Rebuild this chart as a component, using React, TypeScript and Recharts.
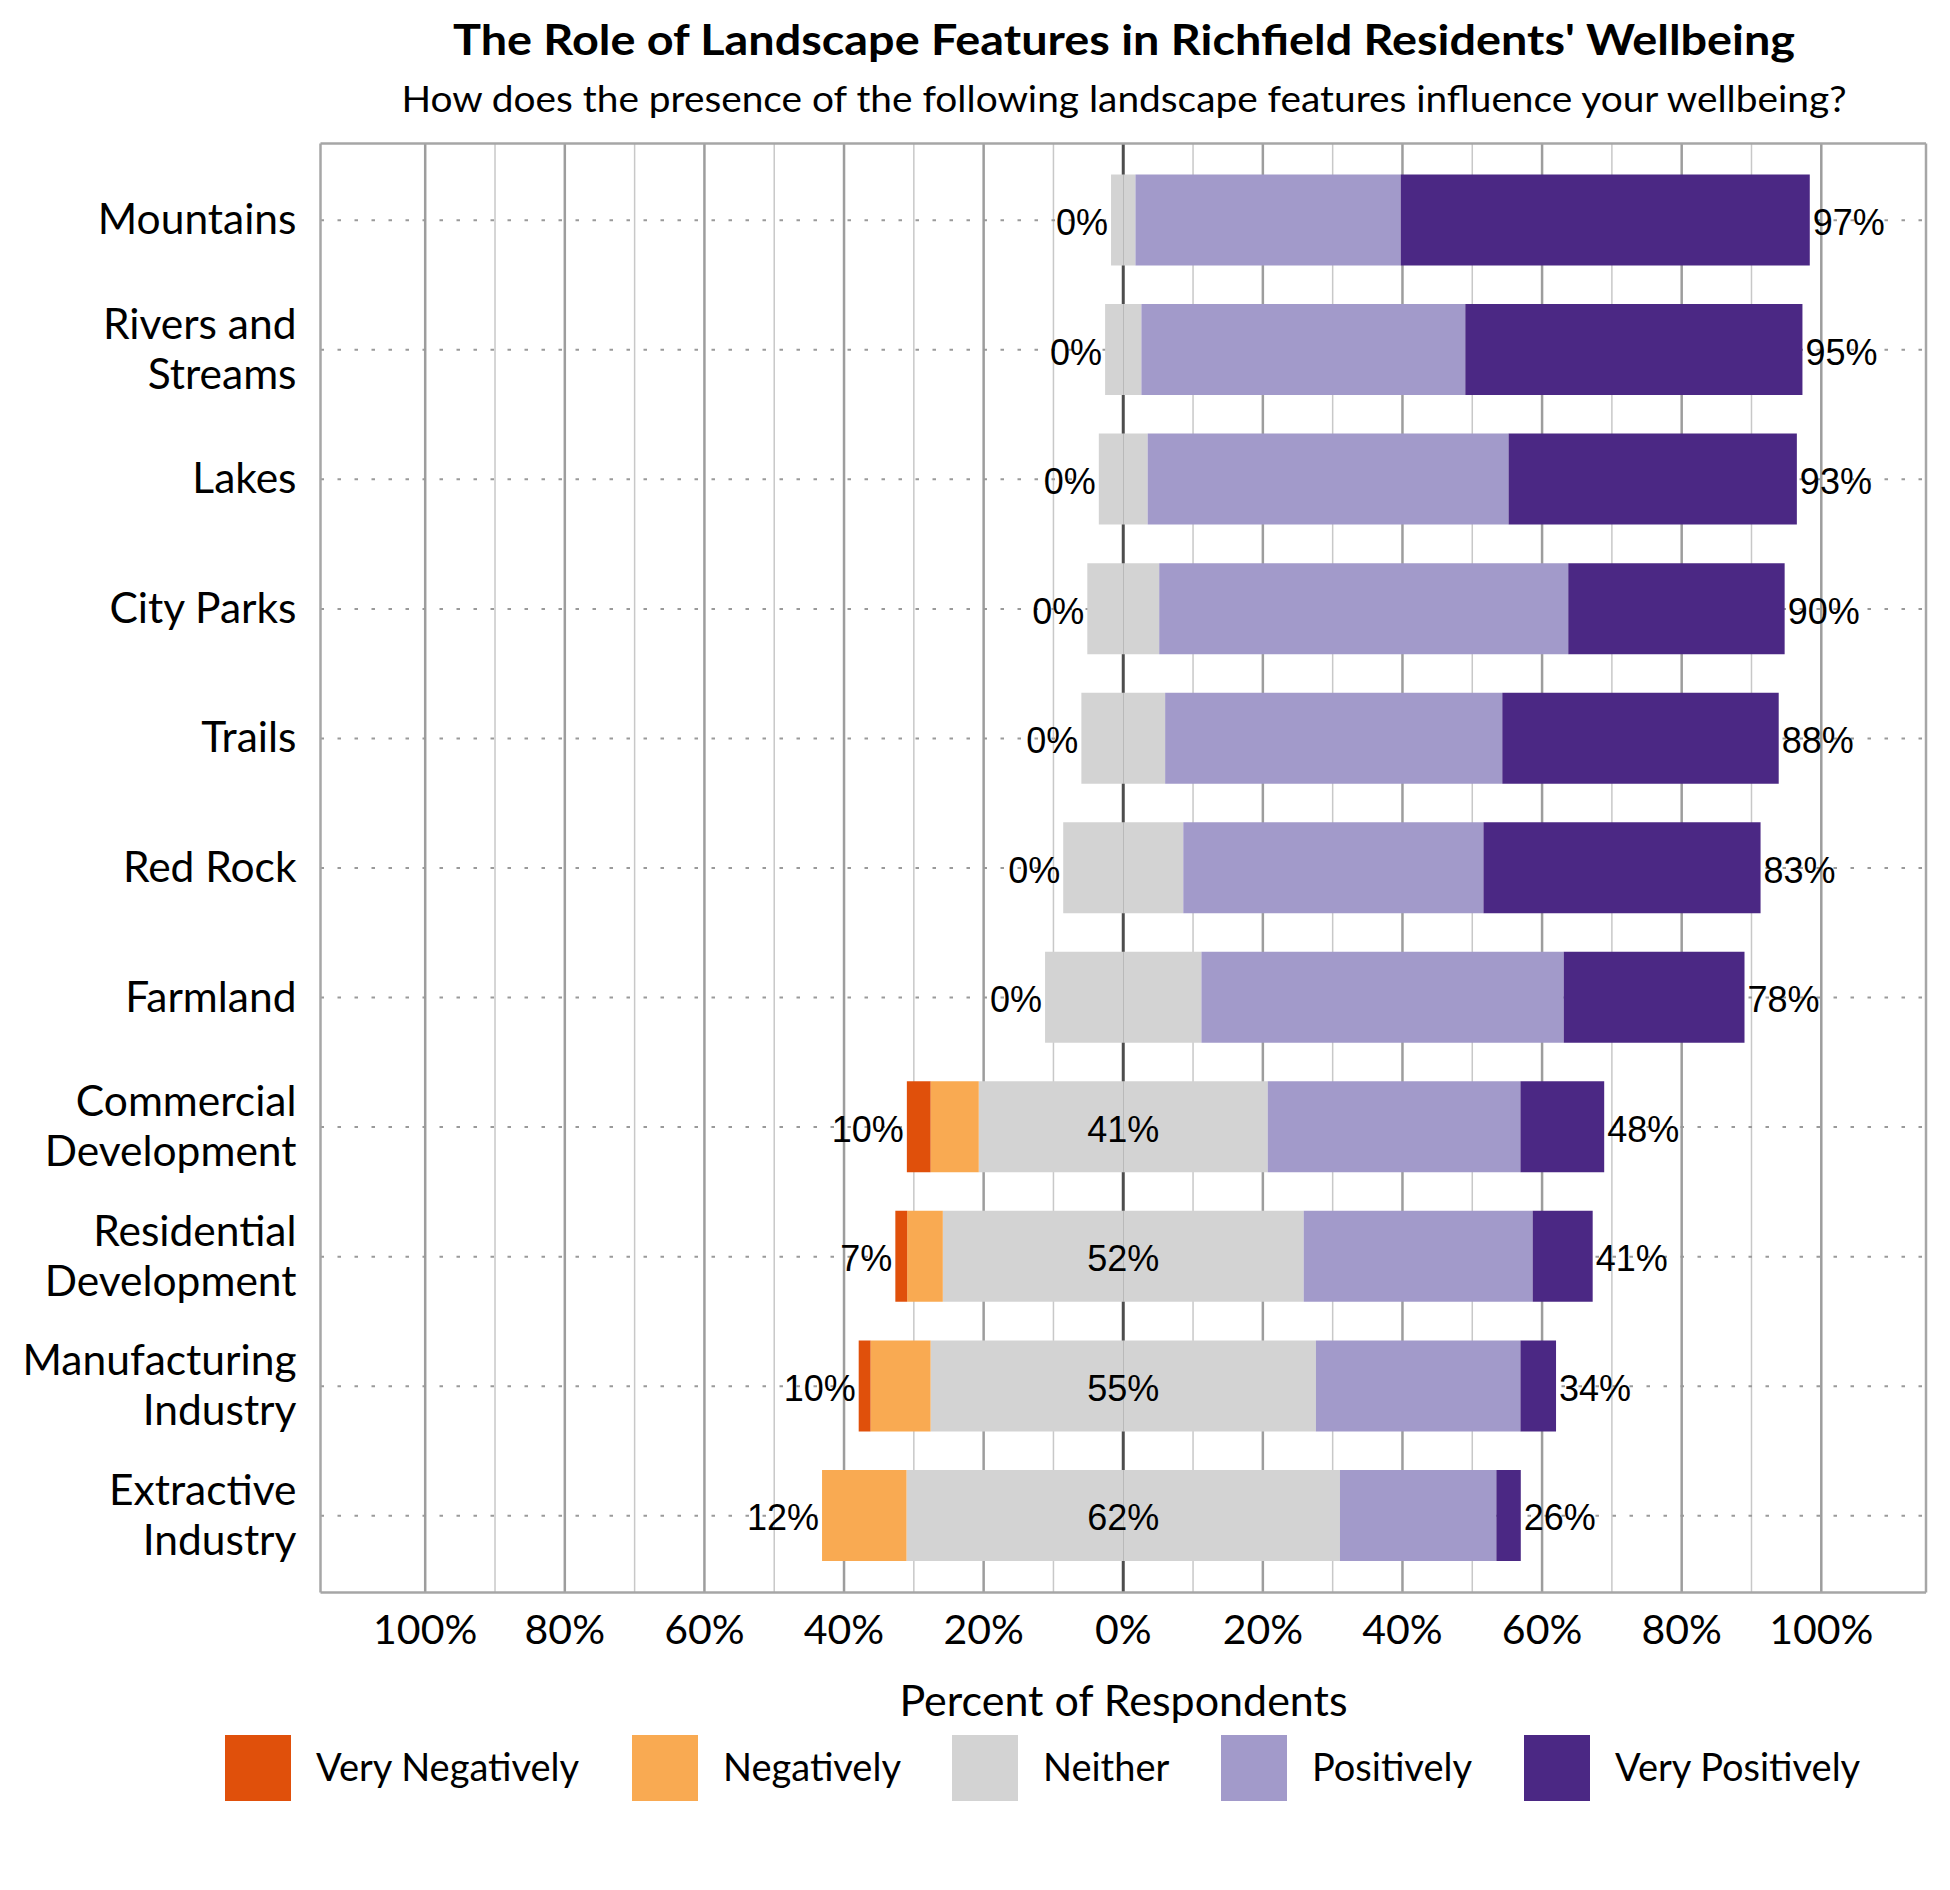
import { Bar, BarChart, CartesianGrid, LabelList, XAxis, YAxis } from "recharts";

const CATEGORIES = [
  "Mountains",
  "Rivers and\nStreams",
  "Lakes",
  "City Parks",
  "Trails",
  "Red Rock",
  "Farmland",
  "Commercial\nDevelopment",
  "Residential\nDevelopment",
  "Manufacturing\nIndustry",
  "Extractive\nIndustry",
];

// percent of respondents per answer
const VERY_NEGATIVELY = [0, 0, 0, 0, 0, 0, 0, 3.4, 1.7, 1.7, 0];
const NEGATIVELY = [0, 0, 0, 0, 0, 0, 0, 6.9, 5.1, 8.6, 12.1];
const NEITHER = [3.5, 5.2, 7.0, 10.3, 12.0, 17.2, 22.4, 41.4, 51.7, 55.2, 62.1];
const POSITIVELY = [38.0, 46.4, 51.7, 58.6, 48.3, 43.0, 51.9, 36.2, 32.8, 29.3, 22.4];
const VERY_POSITIVELY = [58.6, 48.3, 41.3, 31.0, 39.6, 39.7, 25.9, 12.0, 8.6, 5.1, 3.5];

const X_TICKS = [-100, -80, -60, -40, -20, 0, 20, 40, 60, 80, 100];
const MAJOR_GRID = [-100, -80, -60, -40, -20, 20, 40, 60, 80, 100];
const MINOR_GRID = [-90, -70, -50, -30, -10, 10, 30, 50, 70, 90];
const X_DOMAIN: [number, number] = [-115, 115];

const COLORS = {
  veryNeg: "#e0500b",
  neg: "#f9aa52",
  neither: "#d3d3d3",
  pos: "#a29aca",
  veryPos: "#4b2884",
};

const LEGEND = [
  { label: "Very Negatively", color: COLORS.veryNeg },
  { label: "Negatively", color: COLORS.neg },
  { label: "Neither", color: COLORS.neither },
  { label: "Positively", color: COLORS.pos },
  { label: "Very Positively", color: COLORS.veryPos },
];
const LEGEND_LEFT = [225, 632, 952, 1221, 1524];

const TITLE = "The Role of Landscape Features in Richfield Residents' Wellbeing";
const SUBTITLE = "How does the presence of the following landscape features influence your wellbeing?";
const X_TITLE = "Percent of Respondents";

const LATO = "Lato, 'Open Sans', sans-serif";
const ARIAL = "'Liberation Sans', Arial, sans-serif";

const data = CATEGORIES.map((name, i) => ({
  name,
  neitherLo: -NEITHER[i] / 2,
  neitherHi: NEITHER[i] / 2,
  neg: -NEGATIVELY[i],
  pos: POSITIVELY[i],
  veryNeg: -VERY_NEGATIVELY[i],
  veryPos: VERY_POSITIVELY[i],
}));

function boxOf(props: any) {
  const vb = props.viewBox ?? {};
  const x = Number(props.x ?? vb.x);
  const y = Number(props.y ?? vb.y);
  const width = Number(props.width ?? vb.width);
  const height = Number(props.height ?? vb.height);
  return { x, y, width, height };
}

const valueText = {
  fontFamily: ARIAL,
  fontSize: 36,
  fill: "#000",
};

// left total, drawn from the lower half of "Neither" (its width gives the scale)
function NegativeLabel(props: any) {
  const { x, y, width, height } = boxOf(props);
  const i = props.index as number;
  const half = NEITHER[i] / 2;
  const negTotal = VERY_NEGATIVELY[i] + NEGATIVELY[i];
  const zero = Math.max(x, x + width);
  const perUnit = Math.abs(width) / half;
  const end = zero - (half + negTotal) * perUnit;
  return (
    <text x={end - 3} y={y + height / 2 + 15} textAnchor="end" {...valueText}>
      {`${Math.round(negTotal)}%`}
    </text>
  );
}

function NeitherLabel(props: any) {
  const { x, y, width, height } = boxOf(props);
  const i = props.index as number;
  if (NEITHER[i] < 30) return null;
  const zero = Math.min(x, x + width);
  return (
    <text x={zero} y={y + height / 2 + 15} textAnchor="middle" {...valueText}>
      {`${Math.round(NEITHER[i])}%`}
    </text>
  );
}

function PositiveLabel(props: any) {
  const { x, y, width, height } = boxOf(props);
  const i = props.index as number;
  const posTotal = POSITIVELY[i] + VERY_POSITIVELY[i];
  const end = Math.max(x, x + width);
  return (
    <text x={end + 3} y={y + height / 2 + 15} textAnchor="start" {...valueText}>
      {`${Math.round(posTotal)}%`}
    </text>
  );
}

function CategoryTick({ x, y, payload }: any) {
  const lines = String(payload.value).split("\n");
  return (
    <text textAnchor="end" fontFamily={LATO} fontSize={42.5} fill="#000">
      {lines.map((line, i) => (
        <tspan key={i} x={x} y={y + 14 + (i - (lines.length - 1) / 2) * 50}>
          {line}
        </tspan>
      ))}
    </text>
  );
}

// plot frame: the four edges of the plotting area
const frameRows = ({ offset }: any) => [offset.top, offset.top + offset.height];
const frameCols = ({ offset }: any) => [offset.left, offset.left + offset.width];

export default function App() {
  return (
    <div
      style={{
        position: "absolute",
        left: 0,
        top: 0,
        width: 1950,
        height: 1890,
        background: "#fff",
        fontFamily: LATO,
      }}
    >
      <BarChart
        width={1950}
        height={1890}
        data={data}
        layout="vertical"
        stackOffset="sign"
        barSize={91}
        margin={{ top: 143.5, right: 24, bottom: 237.5, left: 0 }}
      >
        <CartesianGrid horizontal={false} verticalValues={MINOR_GRID} stroke="#c8c8c8" strokeWidth={1.5} />
        <CartesianGrid horizontal={false} verticalValues={MAJOR_GRID} stroke="#9d9d9d" strokeWidth={2.5} />
        <CartesianGrid horizontal={false} verticalValues={[0]} stroke="#4d4d4d" strokeWidth={3} />
        <CartesianGrid
          vertical={false}
          syncWithTicks
          stroke="#9a9a9a"
          strokeWidth={2}
          strokeDasharray="3.5 13.5"
        />
        <CartesianGrid
          horizontalCoordinatesGenerator={frameRows}
          verticalCoordinatesGenerator={frameCols}
          stroke="#a6a6a6"
          strokeWidth={2.5}
        />
        <XAxis
          type="number"
          domain={X_DOMAIN}
          allowDataOverflow
          ticks={X_TICKS}
          interval={0}
          tickFormatter={(v: number) => `${Math.abs(v)}%`}
          tick={{ fontFamily: LATO, fontSize: 41, fill: "#000" }}
          tickLine={false}
          tickSize={0}
          tickMargin={22}
          axisLine={false}
          height={60}
        />
        <YAxis
          type="category"
          dataKey="name"
          width={320.5}
          padding={{ top: 12, bottom: 12 }}
          tick={<CategoryTick />}
          interval={0}
          tickLine={false}
          tickSize={0}
          tickMargin={24}
          axisLine={false}
        />
        <Bar dataKey="neitherLo" stackId="a" fill={COLORS.neither} isAnimationActive={false}>
          <LabelList dataKey="neitherLo" content={NegativeLabel} />
        </Bar>
        <Bar dataKey="neitherHi" stackId="a" fill={COLORS.neither} isAnimationActive={false}>
          <LabelList dataKey="neitherHi" content={NeitherLabel} />
        </Bar>
        <Bar dataKey="neg" stackId="a" fill={COLORS.neg} isAnimationActive={false} />
        <Bar dataKey="pos" stackId="a" fill={COLORS.pos} isAnimationActive={false} />
        <Bar dataKey="veryNeg" stackId="a" fill={COLORS.veryNeg} isAnimationActive={false} />
        <Bar dataKey="veryPos" stackId="a" fill={COLORS.veryPos} isAnimationActive={false}>
          <LabelList dataKey="veryPos" content={PositiveLabel} />
        </Bar>
      </BarChart>

      <svg
        width={1950}
        height={1890}
        style={{ position: "absolute", left: 0, top: 0, pointerEvents: "none" }}
      >
        <text
          x={1124}
          y={55}
          textAnchor="middle"
          fontFamily={LATO}
          fontWeight={700}
          fontSize={42}
          textLength={1342}
          lengthAdjust="spacingAndGlyphs"
        >
          {TITLE}
        </text>
        <text
          x={1124}
          y={111.7}
          textAnchor="middle"
          fontFamily={LATO}
          fontSize={36}
          textLength={1445}
          lengthAdjust="spacingAndGlyphs"
        >
          {SUBTITLE}
        </text>
        <text x={1123.5} y={1716} textAnchor="middle" fontFamily={LATO} fontSize={43}>
          {X_TITLE}
        </text>
        {LEGEND.map((item, i) => (
          <g key={item.label}>
            <rect x={LEGEND_LEFT[i]} y={1735} width={66} height={66} fill={item.color} />
            <text x={LEGEND_LEFT[i] + 91} y={1780.7} fontFamily={LATO} fontSize={38} fill="#000">
              {item.label}
            </text>
          </g>
        ))}
      </svg>
    </div>
  );
}
